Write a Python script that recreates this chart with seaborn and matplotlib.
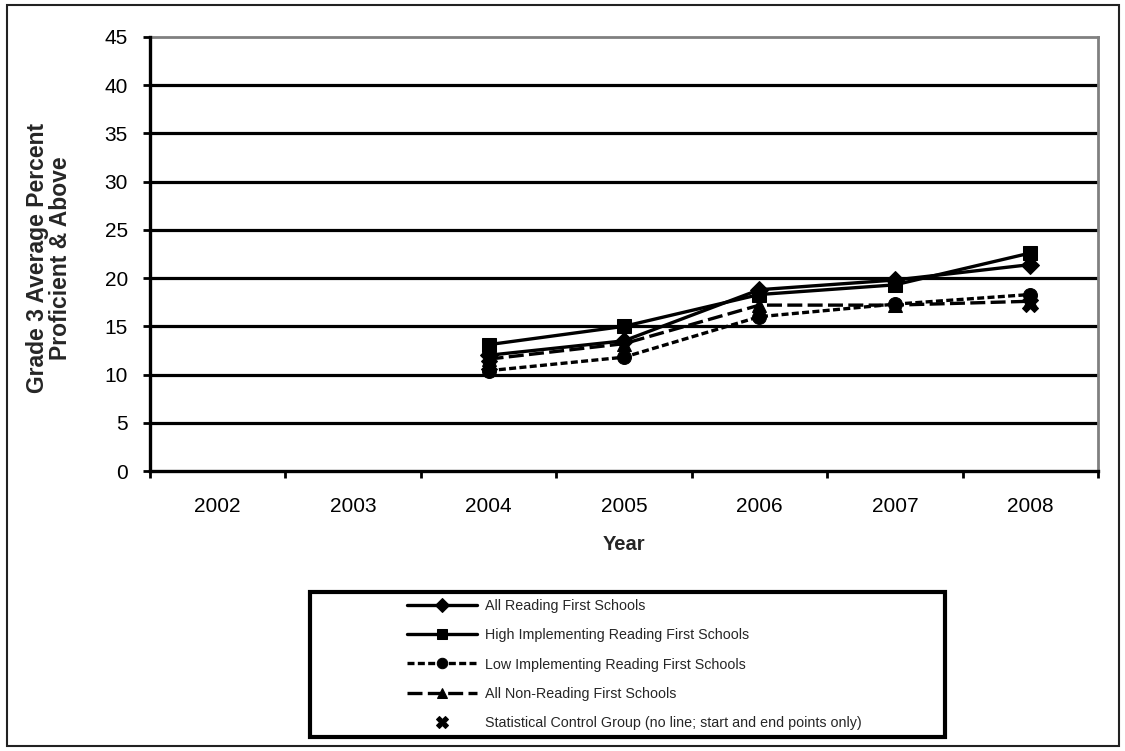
import numpy as np
import pandas as pd
import matplotlib
matplotlib.use("Agg")
import matplotlib.pyplot as plt
from matplotlib.patches import Rectangle
import seaborn as sns

# Categories on the x axis
years = ["2002", "2003", "2004", "2005", "2006", "2007", "2008"]
data_years = ["2004", "2005", "2006", "2007", "2008"]

# Grade 3 average percent proficient & above
all_rf = [12.0, 13.5, 18.8, 19.8, 21.4]
high_rf = [13.1, 15.0, 18.3, 19.3, 22.6]
low_rf = [10.4, 11.8, 16.0, 17.3, 18.3]
non_rf = [11.6, 13.2, 17.2, 17.2, 17.6]
control_years = ["2004", "2008"]
control = [11.0, 17.3]

labels = [
    "All Reading First Schools",
    "High Implementing Reading First Schools",
    "Low Implementing Reading First Schools",
    "All Non-Reading First Schools",
    "Statistical Control Group (no line; start and end points only)",
]

sns.set_theme(style="white")
plt.rcParams["font.family"] = ["Liberation Sans", "DejaVu Sans"]

W, H = 1125, 751
fig = plt.figure(figsize=(W / 100, H / 100), dpi=100)
ax = fig.add_axes([150 / W, 1 - 471 / H, (1098 - 150) / W, (471 - 37) / H])

pos = {y: i for i, y in enumerate(years)}

df = pd.DataFrame({
    "x": [pos[y] for y in data_years],
    "all_rf": all_rf,
    "high_rf": high_rf,
    "low_rf": low_rf,
    "non_rf": non_rf,
})
dfc = pd.DataFrame({"x": [pos[y] for y in control_years], "v": control})

# Horizontal gridlines
for v in range(5, 45, 5):
    ax.axhline(v, color="black", lw=2.3, zorder=1)

lw = 2.4
sns.lineplot(data=df, x="x", y="non_rf", ax=ax, color="black", lw=lw,
             linestyle=(0, (4.5, 1.6)), marker="^", markersize=10,
             markeredgecolor="black", label=labels[3], zorder=3)
sns.lineplot(data=df, x="x", y="low_rf", ax=ax, color="black", lw=lw,
             linestyle=(0, (2.1, 1.0)), marker="o", markersize=10,
             markeredgecolor="black", label=labels[2], zorder=3)
sns.lineplot(data=df, x="x", y="all_rf", ax=ax, color="black", lw=lw,
             marker="D", markersize=9, markeredgecolor="black",
             label=labels[0], zorder=4)
sns.lineplot(data=df, x="x", y="high_rf", ax=ax, color="black", lw=lw,
             marker="s", markersize=10, markeredgecolor="black",
             label=labels[1], zorder=4)
sns.lineplot(data=dfc, x="x", y="v", ax=ax, color="black", lw=0,
             linestyle="none", marker="X", markersize=11,
             markeredgecolor="black", label=labels[4], zorder=5)

ax.set_xlim(-0.5, len(years) - 0.5)
ax.set_ylim(0, 45)
ax.set_yticks(np.arange(0, 46, 5))
ax.set_xticks(range(len(years)))
ax.set_xticklabels(years)
ax.set_xticks(np.arange(-0.5, len(years), 1.0), minor=True)
ax.set_xlabel("")
ax.set_ylabel("")

ax.tick_params(axis="y", which="major", direction="out", length=5, width=2,
               color="black", left=True, labelsize=15, pad=11, labelcolor="black")
ax.tick_params(axis="x", which="major", length=0, labelsize=15, pad=19,
               labelcolor="black")
ax.tick_params(axis="x", which="minor", direction="out", length=5, width=2,
               color="black", bottom=True)

for side in ("left", "bottom"):
    ax.spines[side].set_color("black")
    ax.spines[side].set_linewidth(2.4)
for side in ("top", "right"):
    ax.spines[side].set_color("#808080")
    ax.spines[side].set_linewidth(2.0)
ax.spines["left"].set_zorder(6)
ax.spines["bottom"].set_zorder(6)

ax.legend().remove()
handles, labs = ax.get_legend_handles_labels()
order = [labs.index(l) for l in labels]
fig.legend([handles[i] for i in order], [labs[i] for i in order],
           loc="center left", bbox_to_anchor=(407 / W, 1 - 664.5 / H),
           frameon=False, fontsize=10.3, handlelength=4.9, handletextpad=0.55,
           labelspacing=1.05, borderpad=0, borderaxespad=0, markerscale=0.75)

# Legend frame
fig.add_artist(Rectangle((310 / W, 1 - 737 / H), (945 - 310) / W, (737 - 592) / H,
                         transform=fig.transFigure, fill=False,
                         edgecolor="black", lw=3))
# Outer border
fig.add_artist(Rectangle((7 / W, 1 - 746 / H), (1119 - 7) / W, (746 - 5) / H,
                         transform=fig.transFigure, fill=False,
                         edgecolor="#222222", lw=1.5))

fig.text(49 / W, 1 - 258 / H, "Grade 3 Average Percent\nProficient & Above",
         rotation=90, ha="center", va="center", fontsize=16.5,
         fontweight="bold", linespacing=0.95)
fig.text(624 / W, 1 - 545 / H, "Year", ha="center", va="center",
         fontsize=14.5, fontweight="bold")

fig.savefig("out.png", dpi=100, facecolor="white")
